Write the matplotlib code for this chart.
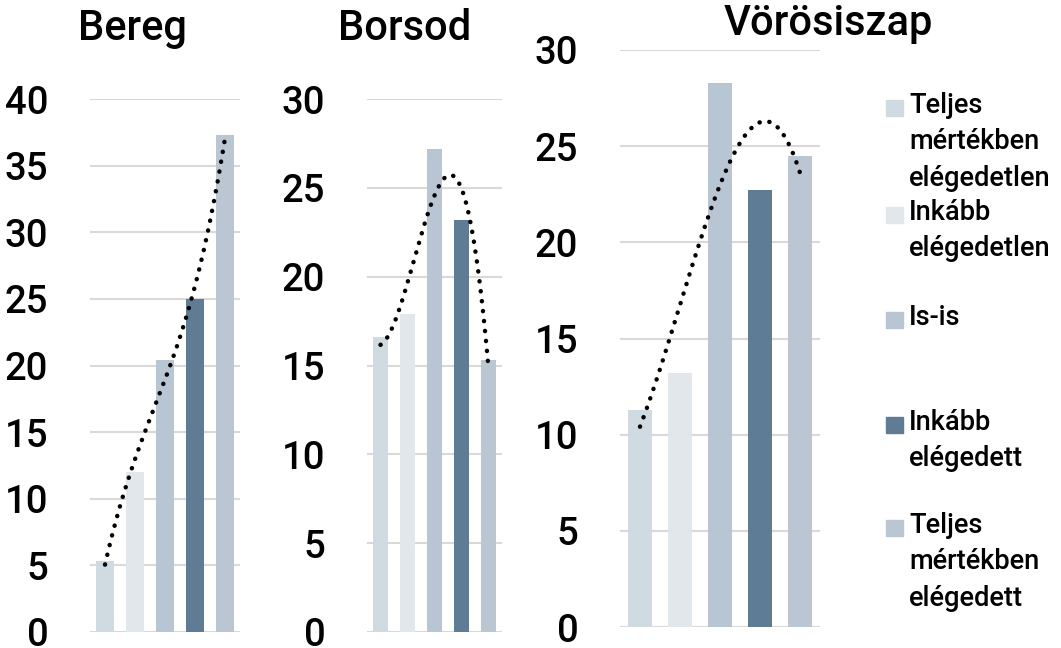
import numpy as np
from matplotlib import pyplot as plt
from matplotlib.patches import Rectangle

plt.rcParams['font.family'] = ['Roboto', 'DejaVu Sans']

categories = ['Teljes\nmértékben\nelégedetlen', 'Inkább\nelégedetlen', 'Is-is',
              'Inkább\nelégedett', 'Teljes\nmértékben\nelégedett']
colors = ['#CFDAE1', '#E1E7EB', '#B8C5D2', '#5F7C94', '#BAC7D3']

regions = ['Bereg', 'Borsod', 'Vörösiszap']
bereg = [5.3, 12.0, 20.4, 25.0, 37.3]
borsod = [16.6, 17.9, 27.2, 23.2, 15.3]
voros = [11.3, 13.2, 28.3, 22.7, 24.5]
values = [bereg, borsod, voros]
ymax = [40, 30, 30]

W, H = 1061, 648
fig = plt.figure(figsize=(W/100, H/100), dpi=100)

# axes boxes in pixels: left, right, y of zero line, y of top gridline
boxes = [(90, 240, 632, 99), (367, 502, 632, 99), (620, 820, 627, 50)]
title_x = [132, 405, 828]
title_y = [40, 40, 35]

x = np.arange(5)
for i in range(3):
    l, r, y0, y1 = boxes[i]
    ax = fig.add_axes([l/W, 1-y0/H, (r-l)/W, (y0-y1)/H])
    ax.bar(x, values[i], width=0.58, color=colors, zorder=2)
    # cubic trendline, as in the original spreadsheet chart
    coef = np.polyfit(x, values[i], 3)
    xs = np.linspace(0, 4, 200)
    ax.plot(xs, np.polyval(coef, xs), color='black', lw=3.2,
            linestyle=(0, (0.05, 2.2)), dash_capstyle='round', zorder=3)
    ax.set_xlim(-0.5, 4.5)
    ax.set_ylim(0, ymax[i])
    ax.set_yticks(np.arange(0, ymax[i]+1, 5))
    ax.set_xticks([])
    ax.yaxis.grid(True, color='#D9D9D9', lw=1.5, zorder=0)
    ax.set_axisbelow(True)
    for s in ax.spines.values():
        s.set_visible(False)
    ax.tick_params(axis='y', length=0, pad=30, labelsize=27.5)
    for t in ax.get_yticklabels():
        t.set_fontweight('medium')
    fig.text(title_x[i]/W, 1-title_y[i]/H, regions[i], ha='center', va='baseline',
             fontsize=30, fontweight='medium')

# legend
patch_y = [108, 215, 320, 425, 528]
for c, lab, py in zip(colors, categories, patch_y):
    fig.patches.append(Rectangle((886/W, 1-(py+8)/H), 17/W, 16/H, color=c,
                                 transform=fig.transFigure, figure=fig))
    fig.text(909/W, 1-(py-16)/H, lab, ha='left', va='top', fontsize=19.6,
             fontweight='medium', linespacing=1.45)

fig.savefig('out.png', dpi=100)
